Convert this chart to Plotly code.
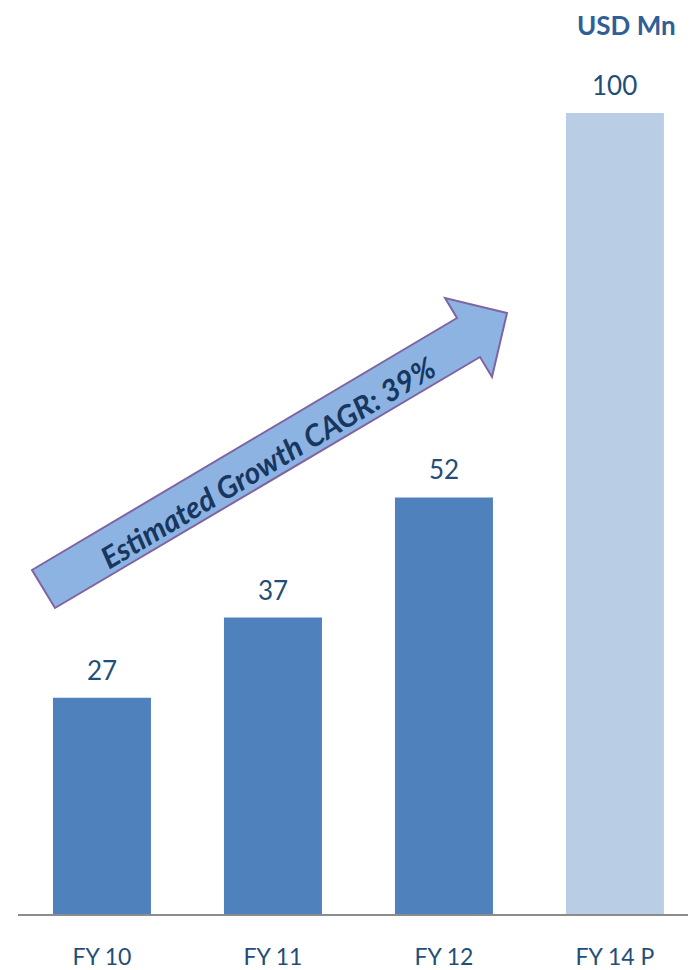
import plotly.graph_objects as go

categories = ["FY 10", "FY 11", "FY 12", "FY 14 P"]
values = [27, 37, 52, 100]
bar_colors = ["#4F81BD", "#4F81BD", "#4F81BD", "#B9CDE5"]
unit_label = "USD Mn"
arrow_text = "Estimated Growth CAGR: 39%"

# page body has an 8px margin; figure placed at (8, 8)
OFF = 8
W, H = 696 - OFF, 970 - OFF
ML, MR, MT, MB = 18 - OFF, 0, 0, 56
PW, PH = W - ML - MR, H - MT - MB

def px(x):
    return (x - OFF - ML) / PW

def py(y):
    return (H - MB - (y - OFF)) / PH

TXT = "#1F4E79"
FONT = "Lato, 'Open Sans', sans-serif"

fig = go.Figure()
fig.add_trace(go.Bar(
    x=categories, y=values,
    marker=dict(color=bar_colors, line=dict(width=0)),
    width=0.573, hoverinfo="skip",
))

for c, v in zip(categories, values):
    fig.add_annotation(x=c, y=v, text=str(v), showarrow=False,
                       xref="x", yref="y", yanchor="bottom", yshift=10,
                       font=dict(size=26, color=TXT, family=FONT))

arrow_pts = [(32, 570), (457, 318), (445, 298), (507, 313), (492, 377), (480, 357), (55, 608)]
path = "M " + " L ".join(f"{px(x):.5f},{py(y):.5f}" for x, y in arrow_pts) + " Z"
fig.add_shape(type="path", path=path, xref="paper", yref="paper",
              fillcolor="#8DB3E2", line=dict(color="#7F64A2", width=2), layer="above")

fig.add_annotation(x=px(267), y=py(462), xref="paper", yref="paper",
                   text="<b><i>" + arrow_text + "</i></b>", showarrow=False,
                   textangle=-30.7, xanchor="center", yanchor="middle",
                   font=dict(size=30, color="#17375E", family=FONT))

fig.add_annotation(x=px(677), y=py(25), xref="paper", yref="paper",
                   text="<b>" + unit_label + "</b>", showarrow=False,
                   xanchor="right", yanchor="middle", borderpad=0,
                   font=dict(size=26, color="#2F5F95", family=FONT))

fig.update_layout(
    width=W, height=H,
    margin=dict(l=ML, r=MR, t=MT, b=MB),
    paper_bgcolor="white", plot_bgcolor="white",
    showlegend=False,
    xaxis=dict(range=[-0.491, 3.474], showgrid=False, zeroline=False,
               showline=True, linecolor="#8C8C8C", linewidth=2,
               ticks="", ticklabelstandoff=21,
               tickfont=dict(size=23, color=TXT, family=FONT)),
    yaxis=dict(range=[0, 113.1], visible=False, fixedrange=True),
)

fig.write_html("out.html")
